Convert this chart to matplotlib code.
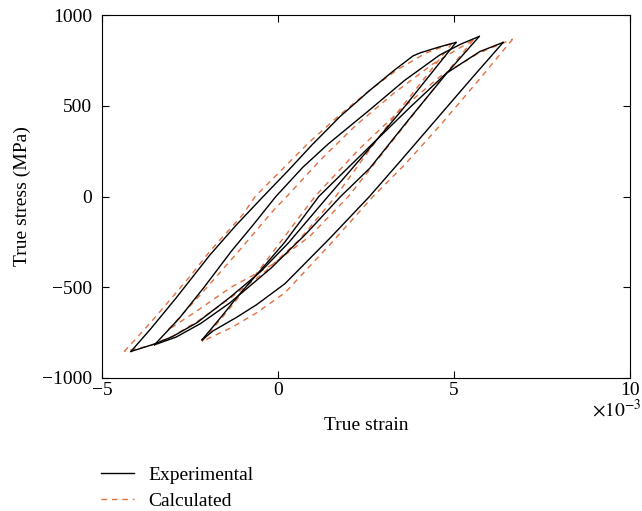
import matplotlib
matplotlib.use("Agg")
from matplotlib import pyplot as plt

# strain in units of 1e-3, stress in MPa
# experimental loops (black)
a_exp_up_x = [-4.18, -3.6, -2.9, -1.93, -1.2, -0.42, 0.3, 0.97, 1.76, 2.61, 3.3, 3.84, 4.05, 4.6, 5.06]
a_exp_up_y = [-854, -725, -560, -321, -160, 0, 145, 285, 440, 585, 695, 775, 792, 825, 849]
a_exp_dn_x = [5.06, 4.3, 3.5, 2.61, 1.42, 0.3, -0.5, -1.36, -2.3, -3.0, -3.5, -4.18]
a_exp_dn_y = [849, 665, 471, 267, 0, -255, -415, -555, -695, -772, -812, -854]

b_exp_up_x = [-3.51, -2.8, -2.1, -1.32, -0.7, -0.06, 0.7, 1.43, 2.61, 3.6, 4.6, 5.2, 5.72]
b_exp_up_y = [-817, -670, -500, -300, -155, 0, 160, 290, 478, 640, 780, 840, 882]
b_exp_dn_x = [5.72, 4.8, 3.7, 2.61, 1.78, 0.8, -0.2, -1.36, -2.2, -2.9, -3.51]
b_exp_dn_y = [882, 680, 420, 156, 0, -205, -395, -585, -700, -775, -817]

c_exp_up_x = [-2.16, -1.6, -1.1, -0.4, 0.2, 1.16, 2.61, 3.8, 4.79, 5.74, 6.4]
c_exp_up_y = [-790, -660, -540, -385, -250, 0, 276, 500, 680, 799, 849]
c_exp_dn_x = [6.4, 5.5, 4.5, 3.5, 2.6, 1.5, 0.2, -0.6, -1.17, -1.84, -2.16]
c_exp_dn_y = [849, 650, 425, 200, 0, -225, -480, -595, -665, -740, -790]

# calculated loops (dashed)
a_calc_up_x = [-4.37, -3.6, -2.5, -1.93, -1.0, -0.65, 0.2, 0.86, 1.7, 2.6, 3.4, 4.2, 4.95]
a_calc_up_y = [-854, -690, -440, -300, -100, 0, 165, 294, 440, 585, 700, 790, 845]
a_calc_dn_x = [4.95, 4.2, 3.3, 2.5, 1.64, 0.6, -0.4, -1.36, -2.3, -3.0, -3.6, -4.37]
a_calc_dn_y = [845, 660, 440, 230, 0, -240, -420, -560, -690, -770, -820, -854]

b_calc_up_x = [-3.12, -2.2, -1.2, -0.1, 0.25, 1.2, 2.2, 3.3, 4.4, 5.0, 5.55]
b_calc_up_y = [-734, -540, -320, -70, 0, 200, 390, 570, 730, 800, 863]
b_calc_dn_x = [5.55, 4.7, 3.8, 2.9, 2.0, 0.9, -0.2, -1.36, -2.3, -3.12]
b_calc_dn_y = [863, 660, 440, 220, 0, -220, -380, -503, -630, -734]

c_calc_up_x = [-2.16, -1.3, -0.2, 1.05, 2.3, 3.5, 4.6, 5.7, 6.67]
c_calc_up_y = [-799, -600, -320, 0, 260, 480, 660, 790, 867]
c_calc_dn_x = [6.67, 5.7, 4.6, 3.6, 2.7, 1.5, 0.2, -0.6, -1.3, -2.16]
c_calc_dn_y = [867, 640, 390, 175, 0, -260, -530, -640, -720, -799]

exp_branches = [(a_exp_up_x, a_exp_up_y), (a_exp_dn_x, a_exp_dn_y),
                (b_exp_up_x, b_exp_up_y), (b_exp_dn_x, b_exp_dn_y),
                (c_exp_up_x, c_exp_up_y), (c_exp_dn_x, c_exp_dn_y)]
calc_branches = [(a_calc_up_x, a_calc_up_y), (a_calc_dn_x, a_calc_dn_y),
                 (b_calc_up_x, b_calc_up_y), (b_calc_dn_x, b_calc_dn_y),
                 (c_calc_up_x, c_calc_up_y), (c_calc_dn_x, c_calc_dn_y)]

x_ticks = [-5, 0, 5, 10]
x_labels = ['\u22125', '0', '5', '10']
y_ticks = [-1000, -500, 0, 500, 1000]
y_labels = ['\u22121000', '\u2212500', '0', '500', '1000']

plt.rcParams['font.family'] = ['Liberation Serif', 'DejaVu Serif']
plt.rcParams['mathtext.fontset'] = 'stix'

orange = '#e2703f'

fig = plt.figure(figsize=(6.42, 5.11), dpi=100)
ax = fig.add_axes([0.159, 0.2603, 0.822, 0.7103])

for i, (bx, by) in enumerate(calc_branches):
    ax.plot(bx, by, color=orange, lw=1.0, ls=(0, (4, 3.5)),
            label='Calculated' if i == 0 else None, zorder=2)
for i, (bx, by) in enumerate(exp_branches):
    ax.plot(bx, by, color='black', lw=1.0,
            label='Experimental' if i == 0 else None, zorder=3)

ax.set_xlim(-5, 10)
ax.set_ylim(-1000, 1000)
ax.set_xticks(x_ticks)
ax.set_xticklabels(x_labels)
ax.set_yticks(y_ticks)
ax.set_yticklabels(y_labels)
ax.tick_params(direction='in', top=True, right=True, length=5, width=0.8,
               labelsize=14)
ax.tick_params(axis='x', pad=3)
ax.tick_params(axis='y', pad=7)
for s in ax.spines.values():
    s.set_linewidth(0.8)

ax.set_xlabel('True strain', fontsize=14, labelpad=13)
ax.set_ylabel('True stress (MPa)', fontsize=14, labelpad=8)
fig.text(641 / 642, 1 - 399 / 511, r'$\times10^{-3}$', fontsize=14,
         ha='right', va='top')

h, l = ax.get_legend_handles_labels()
order = [l.index('Experimental'), l.index('Calculated')]
fig.legend([h[k] for k in order], [l[k] for k in order], loc='upper left',
           bbox_to_anchor=(101 / 642, 1 - 466 / 511), frameon=False, fontsize=14,
           handlelength=1.7, handletextpad=0.75, labelspacing=0.45,
           borderpad=0, borderaxespad=0)

fig.savefig('out.png', dpi=100)
